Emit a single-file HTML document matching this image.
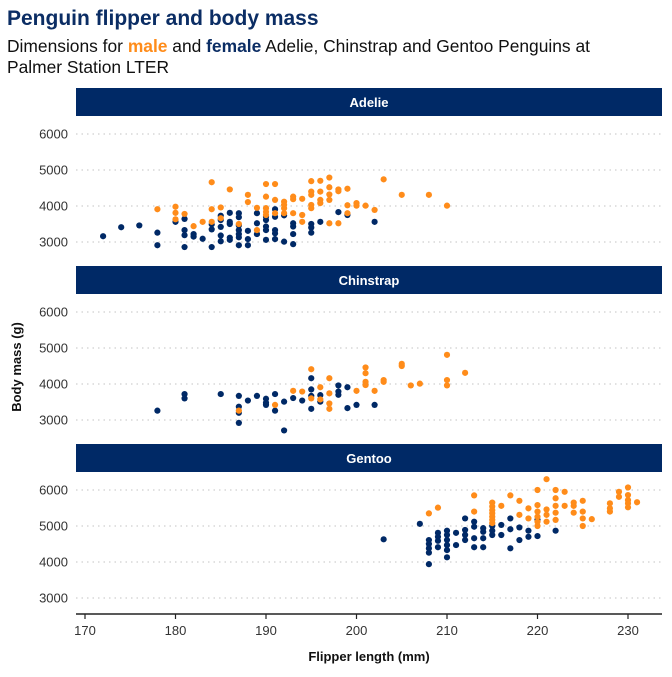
<!DOCTYPE html>
<html><head><meta charset="utf-8"><style>
body{margin:0;background:#fff;font-family:"Liberation Sans",sans-serif}
svg text{font-family:"Liberation Sans",sans-serif}
</style></head><body>
<svg id="chart" width="672" height="672" viewBox="0 0 672 672">
<text x="7" y="25" font-size="21" font-weight="bold" fill="#0b2d64">Penguin flipper and body mass</text>
<text x="7" y="52" font-size="17.4" fill="#111">Dimensions for <tspan fill="#ff8c1a" font-weight="bold">male</tspan> and <tspan fill="#0b2d64" font-weight="bold">female</tspan> Adelie, Chinstrap and Gentoo Penguins at</text>
<text x="7" y="73" font-size="17.4" fill="#111">Palmer Station LTER</text>
<text transform="translate(21,367) rotate(-90)" text-anchor="middle" font-size="13" font-weight="bold" fill="#111">Body mass (g)</text>
<text x="369" y="661" text-anchor="middle" font-size="13" font-weight="bold" fill="#111">Flipper length (mm)</text>
<g id="layer"></g>
</svg>
<script>
const species=["Adelie","Chinstrap","Gentoo"];
const yTicks=[3000,4000,5000,6000];
const xTicks=[170,180,190,200,210,220,230];
const adelieFemale=[[172,3160],[174,3410],[176,3460],[178,3260],[178,2910],[180,3560],[181,3640],[181,3330],[181,3190],[181,2860],[182,3220],[182,3150],[183,3090],[184,3490],[184,3350],[184,2860],[185,3730],[185,3610],[185,3420],[185,3180],[185,3020],[186,3810],[186,3560],[186,3500],[186,3120],[186,3060],[187,3800],[187,3690],[187,3460],[187,3330],[187,3220],[187,3130],[187,2910],[188,3310],[188,3080],[188,2910],[189,3800],[189,3520],[189,3220],[190,3700],[190,3610],[190,3430],[190,3330],[190,3060],[191,3910],[191,3700],[191,3330],[191,3240],[191,3080],[192,3740],[192,3010],[193,3520],[193,3430],[193,3220],[193,2940],[195,3500],[195,3400],[195,3260],[196,3560],[198,3830],[199,3750],[202,3560]];
const adelieMale=[[178,3910],[180,3980],[180,3810],[180,3630],[181,3780],[182,3440],[183,3560],[184,4660],[184,3910],[184,3560],[185,3960],[185,3660],[186,4460],[187,3500],[188,4310],[188,4110],[189,3950],[189,3330],[190,4610],[190,4260],[190,3940],[190,3840],[190,3750],[191,4610],[191,4170],[191,3800],[192,4120],[192,4030],[192,3940],[192,3800],[193,4260],[193,4190],[193,3800],[194,4200],[194,3750],[194,3560],[195,4690],[195,4400],[195,4310],[195,4030],[195,3940],[196,4700],[196,4400],[196,4170],[196,4080],[197,4790],[197,4520],[197,4320],[197,4170],[197,3520],[198,4460],[198,4410],[198,3520],[199,4480],[199,4020],[199,3800],[200,4080],[200,4010],[201,4010],[202,3890],[203,4740],[205,4310],[208,4310],[210,4010]];
const chinstrapFemale=[[178,3260],[181,3720],[181,3600],[185,3720],[187,3670],[187,3370],[187,3200],[187,2920],[188,3540],[189,3670],[190,3590],[190,3480],[190,3420],[191,3720],[191,3260],[192,3510],[192,2710],[193,3610],[194,3540],[195,4160],[195,3850],[195,3670],[195,3310],[196,3690],[196,3510],[198,3960],[198,3790],[198,3700],[199,3910],[199,3330],[200,3420],[202,3420]];
const chinstrapMale=[[187,3260],[191,3420],[193,3810],[194,3790],[195,4410],[195,3600],[196,3910],[196,3570],[197,4160],[197,3740],[197,3460],[197,3310],[200,3810],[201,4460],[201,4300],[201,4060],[201,3970],[202,3810],[203,4110],[203,4060],[205,4560],[205,4500],[206,3960],[207,4010],[210,4810],[210,4110],[210,3960],[212,4310]];
const gentooFemale=[[203,4630],[207,5060],[208,4610],[208,4500],[208,4380],[208,4260],[208,3940],[209,4810],[209,4700],[209,4590],[209,4410],[210,4870],[210,4750],[210,4610],[210,4470],[210,4330],[210,4130],[211,4810],[211,4470],[212,5210],[212,4890],[212,4750],[212,4610],[213,5120],[213,4980],[213,4660],[213,4410],[214,4940],[214,4840],[214,4660],[214,4410],[215,5000],[215,4870],[215,4750],[216,5030],[216,4750],[217,5210],[217,4910],[217,4380],[218,4960],[218,4610],[219,4870],[219,4700],[220,5170],[220,4720],[222,4870]];
const gentooMale=[[208,5350],[209,5510],[213,5850],[213,5400],[215,5650],[215,5540],[215,5440],[215,5350],[215,5260],[215,5170],[215,5080],[216,5560],[217,5850],[218,5700],[218,5310],[219,5490],[219,5210],[220,6000],[220,5580],[220,5400],[220,5260],[220,5120],[220,5000],[221,6300],[221,5460],[221,5310],[221,5120],[222,6000],[222,5770],[222,5560],[222,5370],[222,5170],[223,5950],[223,5560],[224,5650],[224,5560],[224,5370],[225,5700],[225,5400],[225,5210],[225,5000],[226,5190],[228,5630],[228,5490],[228,5400],[229,5950],[229,5810],[230,6070],[230,5860],[230,5720],[230,5630],[230,5520],[231,5660]];
const seriesBySpecies=[[adelieFemale,adelieMale],[chinstrapFemale,chinstrapMale],[gentooFemale,gentooMale]];
const NS="http://www.w3.org/2000/svg";
const layer=document.getElementById('layer');
const stripTops=[88,266,444];
const xScale=f=>85+(f-170)*9.05;
const yScale=(top,m)=>top+46+(6000-m)*0.036;
function mk(tag,attrs,parent){const e=document.createElementNS(NS,tag);for(const k in attrs)e.setAttribute(k,attrs[k]);(parent||layer).appendChild(e);return e;}
species.forEach((sp,i)=>{
  const top=stripTops[i];
  const g=mk('g',{});
  
  
  yTicks.forEach(t=>{
    const y=yScale(top,t);
    const ln=mk('line',{x1:76,x2:662,y1:y,y2:y,stroke:'#cfcfcf','stroke-dasharray':'1.5,4','stroke-width':1.2},g);
    
    
    const tx=mk('text',{x:68,y:y+4.5,'text-anchor':'end','font-size':13,fill:'#333'},g);
    tx.textContent=t;
    
    
  });
  const r=mk('rect',{x:76,y:top,width:586,height:28,fill:'#002966'},g);
  
  
  const st=mk('text',{x:369,y:top+19,'text-anchor':'middle','font-size':13,'font-weight':'bold',fill:'#fff'},g);
  st.textContent=sp;
  
  
  const [fem,mal]=seriesBySpecies[i];
  [[fem,'#002966','female'],[mal,'#ff8c1a','male']].forEach(([arr,col,sex])=>{
    arr.forEach(([f,m])=>{
      const c=mk('circle',{cx:xScale(f),cy:yScale(top,m),r:3.1,fill:col},g);
      
      
    });
  });
});
const ax=mk('line',{x1:76,x2:662,y1:614,y2:614,stroke:'#222','stroke-width':1.5});


xTicks.forEach(t=>{
  const x=xScale(t);
  const tk=mk('line',{x1:x,x2:x,y1:614,y2:619,stroke:'#222','stroke-width':1.2});
  
  
  const tx=mk('text',{x:x,y:635,'text-anchor':'middle','font-size':13,fill:'#333'});
  tx.textContent=t;
  
  
});
</script>
</body></html>
